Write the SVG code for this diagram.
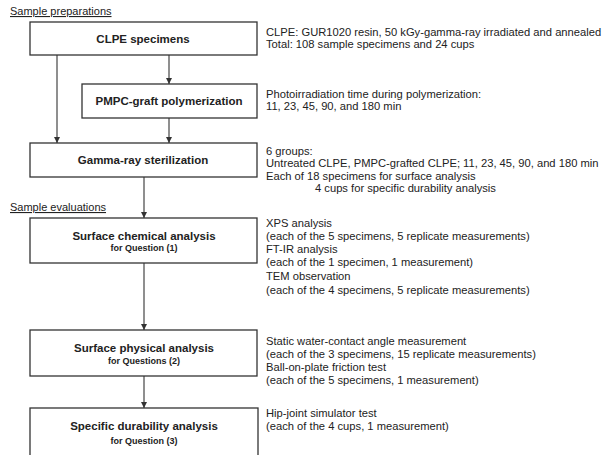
<svg xmlns="http://www.w3.org/2000/svg" width="614" height="455" viewBox="0 0 614 455">
<defs>
<style>
.box{fill:#fff;stroke:#333;stroke-width:1.3}
.t{font-family:"Liberation Sans",Arial,sans-serif;fill:#222}
.title{font-size:11.5px;font-weight:bold;text-anchor:middle}
.sub{font-size:9px;font-weight:bold;text-anchor:middle}
.desc{font-size:11.2px}
.hdr{font-size:11px;text-decoration:underline}
.c{stroke:#333;stroke-width:1.1;fill:none}
</style>
<marker id="ah" viewBox="0 0 10 10" refX="10" refY="5" markerWidth="6" markerHeight="6" markerUnits="userSpaceOnUse" orient="auto">
<path d="M0,0 L10,5 L0,10 Z" fill="#333"/>
</marker>
</defs>
<rect width="614" height="455" fill="#fff"/>
<text class="t hdr" x="10" y="15">Sample preparations</text>
<text class="t hdr" x="10" y="211">Sample evaluations</text>
<g id="connectors">
<line class="c" x1="169" y1="55" x2="169" y2="84" marker-end="url(#ah)"/>
<line class="c" x1="57" y1="55" x2="57" y2="143" marker-end="url(#ah)"/>
<line class="c" x1="169" y1="118" x2="169" y2="143" marker-end="url(#ah)"/>
<line class="c" x1="144" y1="177" x2="144" y2="218" marker-end="url(#ah)"/>
<line class="c" x1="144" y1="263" x2="144" y2="330" marker-end="url(#ah)"/>
<line class="c" x1="144" y1="376" x2="144" y2="408" marker-end="url(#ah)"/>
</g>
<g id="clpe">
<rect class="box" x="30" y="22" width="227" height="33"/>
<text class="t title" x="143" y="43">CLPE specimens</text>
<text class="t desc" x="266" y="36">CLPE: GUR1020 resin, 50 kGy-gamma-ray irradiated and annealed</text>
<text class="t desc" x="266" y="48">Total: 108 sample specimens and 24 cups</text>
</g>
<g id="pmpc">
<rect class="box" x="82" y="84" width="175" height="34"/>
<text class="t title" x="169" y="105">PMPC-graft polymerization</text>
<text class="t desc" x="266" y="98">Photoirradiation time during polymerization:</text>
<text class="t desc" x="266" y="110">11, 23, 45, 90, and 180 min</text>
</g>
<g id="gamma">
<rect class="box" x="30" y="143" width="227" height="34"/>
<text class="t title" x="143" y="164">Gamma-ray sterilization</text>
<text class="t desc" x="266" y="155">6 groups:</text>
<text class="t desc" x="266" y="167">Untreated CLPE, PMPC-grafted CLPE; 11, 23, 45, 90, and 180 min</text>
<text class="t desc" x="266" y="180">Each of 18 specimens for surface analysis</text>
<text class="t desc" x="315" y="192">4 cups for specific durability analysis</text>
</g>
<g id="chem">
<rect class="box" x="30" y="218" width="227" height="45"/>
<text class="t title" x="144" y="240">Surface chemical analysis</text>
<text class="t sub" x="144" y="251">for Question (1)</text>
<text class="t desc" x="266" y="227">XPS analysis</text>
<text class="t desc" x="266" y="240">(each of the 5 specimens, 5 replicate measurements)</text>
<text class="t desc" x="266" y="253">FT-IR analysis</text>
<text class="t desc" x="266" y="266">(each of the 1 specimen, 1 measurement)</text>
<text class="t desc" x="266" y="280">TEM observation</text>
<text class="t desc" x="266" y="294">(each of the 4 specimens, 5 replicate measurements)</text>
</g>
<g id="phys">
<rect class="box" x="30" y="330" width="227" height="46"/>
<text class="t title" x="144" y="352">Surface physical analysis</text>
<text class="t sub" x="144" y="364">for Questions (2)</text>
<text class="t desc" x="266" y="345">Static water-contact angle measurement</text>
<text class="t desc" x="266" y="358">(each of the 3 specimens, 15 replicate measurements)</text>
<text class="t desc" x="266" y="371">Ball-on-plate friction test</text>
<text class="t desc" x="266" y="384">(each of the 5 specimens, 1 measurement)</text>
</g>
<g id="durab">
<rect class="box" x="30" y="408" width="228" height="50"/>
<text class="t title" x="144" y="430">Specific durability analysis</text>
<text class="t sub" x="144" y="444">for Question (3)</text>
<text class="t desc" x="266" y="417">Hip-joint simulator test</text>
<text class="t desc" x="266" y="430">(each of the 4 cups, 1 measurement)</text>
</g>
</svg>
